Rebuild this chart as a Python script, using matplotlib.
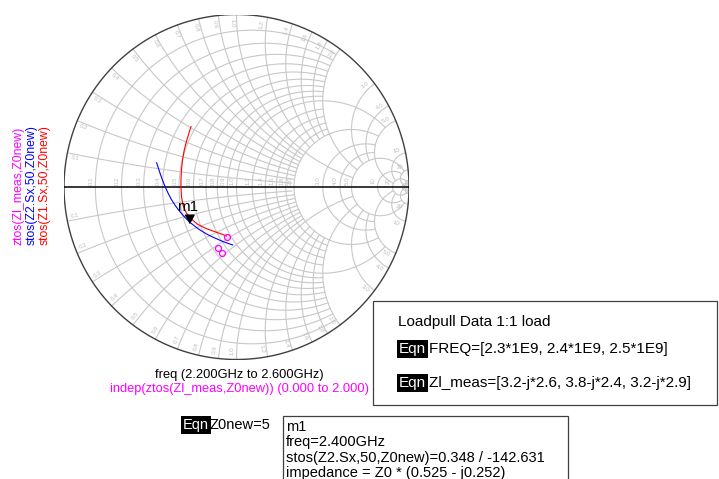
import numpy as np
import matplotlib.pyplot as plt
from matplotlib.patches import Rectangle

plt.rcParams['font.family'] = ['Liberation Sans', 'DejaVu Sans']

W, H = 719, 479

# grid values of the Smith chart: (value, limit of the opposite coordinate)
grid_values = [0.1, 0.2, 0.3, 0.4, 0.5, 0.6, 0.7, 0.8, 0.9, 1.0,
               1.2, 1.4, 1.6, 1.8, 2.0, 3.0, 4.0, 5.0, 10, 20, 50]
grid_limits = [2, 2, 2, 2, 2, 2, 2, 2, 2, 5,
               2, 2, 2, 2, 5, 5, 5, 20, 20, np.inf, np.inf]
grid_texts = ["0.1", "0.2", "0.3", "0.4", "0.5", "0.6", "0.7", "0.8", "0.9", "1.0",
              "1.2", "1.4", "1.6", "1.8", "2.0", "3.0", "4.0", "5.0", "10", "20", ""]

# load pull data
freq_meas_ghz = [2.3, 2.4, 2.5]
zl_meas = [3.2 - 2.6j, 3.8 - 2.4j, 3.2 - 2.9j]
z0_new = 5

# stos(Z1.Sx,50,Z0new), freq 2.2 GHz -> 2.6 GHz
z1_re = [-0.264, -0.274, -0.289, -0.303, -0.313, -0.319, -0.322, -0.322,
         -0.319, -0.309, -0.291, -0.263, -0.224, -0.176, -0.117, -0.057]
z1_im = [0.350, 0.318, 0.268, 0.214, 0.157, 0.099, 0.041, 0.000,
         -0.056, -0.110, -0.150, -0.185, -0.217, -0.241, -0.262, -0.284]

# stos(Z2.Sx,50,Z0new), freq 2.2 GHz -> 2.6 GHz
z2_re = [-0.463, -0.453, -0.443, -0.429, -0.414, -0.396, -0.376, -0.353,
         -0.328, -0.300, -0.270, -0.241, -0.212, -0.174, -0.134, -0.077, -0.022]
z2_im = [0.141, 0.110, 0.079, 0.040, 0.002, -0.037, -0.075, -0.110,
         -0.143, -0.175, -0.205, -0.228, -0.249, -0.272, -0.292, -0.317, -0.336]

# marker m1 on stos(Z2.Sx,50,Z0new) at 2.4 GHz
m1_mag = 0.348
m1_ang = -142.631
m1_imp = (0.525, -0.252)

grid_col = '#c8c8c8'
label_col = '#bcbcbc'


def fpos(x, y):
    return x / W, 1 - y / H


fig = plt.figure(figsize=(W / 100, H / 100), dpi=100)
cx, cy, R = 236.5, 187.0, 172.5
ax = fig.add_axes([(cx - R) / W, (H - cy - R) / H, 2 * R / W, 2 * R / H])
ax.set_xlim(-1, 1)
ax.set_ylim(-1, 1)
ax.axis('off')

phi = np.linspace(1e-4, 2 * np.pi - 1e-4, 4000)

for val, lim, txt in zip(grid_values, grid_limits, grid_texts):
    # constant resistance circle
    g = val / (1 + val) + np.exp(1j * phi) / (1 + val)
    z = (1 + g) / (1 - g)
    g = np.where(np.abs(z.imag) <= lim + 1e-9, g, np.nan)
    ax.plot(g.real, g.imag, color=grid_col, lw=0.8, zorder=1)
    # constant reactance arcs (both signs)
    for s in (1, -1):
        g = 1 + 1j * s / val + np.exp(1j * phi) / val
        inside = np.abs(g) <= 1.0
        z = (1 + g) / (1 - g)
        g = np.where(inside & (z.real <= lim + 1e-9), g, np.nan)
        ax.plot(g.real, g.imag, color=grid_col, lw=0.8, zorder=1)

    if not txt:
        continue
    # resistance label on the real axis
    ax.annotate(txt, ((val - 1) / (val + 1), 0), xytext=(-3, 4.8),
                textcoords='offset points', rotation=90, ha='center', va='center',
                fontsize=4.4, color=label_col)
    # reactance labels along the rim
    for s in (1, -1):
        th = np.degrees(np.arctan2(2 * s * val, val ** 2 - 1)) + s * 1.4
        rot = th if -90 < th <= 90 else th - 180 * np.sign(th)
        t = np.radians(th)
        ax.text(0.952 * np.cos(t), 0.952 * np.sin(t), txt, rotation=rot,
                ha='center', va='center', fontsize=4.4, color=label_col,
                rotation_mode='anchor')

t = np.linspace(0, 2 * np.pi, 600)
ax.plot(np.cos(t), np.sin(t), color='#404040', lw=1.0, zorder=2)
ax.plot([-1, 1], [0, 0], color='black', lw=1.1, zorder=2)

# traces
ax.plot(z1_re, z1_im, color='red', lw=0.8, zorder=3)
ax.plot(z2_re, z2_im, color='blue', lw=0.8, zorder=3)

zn = np.array(zl_meas) / z0_new
gl = (zn - 1) / (zn + 1)
ax.plot(gl.real, gl.imag, ls='none', marker='o', ms=4.3, mfc='none',
        mec='magenta', mew=0.9, zorder=4)

# marker m1
g_m1 = m1_mag * np.exp(1j * np.radians(m1_ang))
tri = [(-0.55, 1.0), (0.55, 1.0), (0, 0)]
ax.plot([g_m1.real], [g_m1.imag], ls='none', marker=tri, ms=12,
        color='black', zorder=5)
ax.annotate('m1', (g_m1.real, g_m1.imag), xytext=(-0.5, 12),
            textcoords='offset points', ha='center', va='center', fontsize=11)

# trace names
fig.text(*fpos(19, 245), 'ztos(Zl_meas,Z0new)', rotation=90, ha='center',
         va='bottom', color='magenta', fontsize=8.8)
fig.text(*fpos(32, 245), 'stos(Z2.Sx,50,Z0new)', rotation=90, ha='center',
         va='bottom', color='blue', fontsize=8.8)
fig.text(*fpos(45, 245), 'stos(Z1.Sx,50,Z0new)', rotation=90, ha='center',
         va='bottom', color='red', fontsize=8.8)

fig.text(*fpos(239, 375), 'freq (2.200GHz to 2.600GHz)', ha='center',
         va='center', fontsize=9.3)
fig.text(*fpos(239, 389), 'indep(ztos(Zl_meas,Z0new)) (0.000 to 2.000)',
         ha='center', va='center', fontsize=9.3, color='magenta')

# equation block
fig.patches.append(Rectangle(fpos(373, 405), 344 / W, 104 / H, fill=False,
                             ec='#404040', lw=0.9, transform=fig.transFigure))
fig.text(*fpos(398, 322), 'Loadpull Data 1:1 load', ha='left', va='center',
         fontsize=11)

eqn_box = dict(boxstyle='square,pad=0.14', fc='black', ec='none')
freq_txt = ', '.join(f'{f}*1E9' for f in freq_meas_ghz)
zl_txt = ', '.join(f'{z.real}-j*{-z.imag}' for z in zl_meas)
fig.text(*fpos(399, 349), 'Eqn', color='white', ha='left', va='center',
         fontsize=11, bbox=eqn_box)
fig.text(*fpos(429, 349), f'FREQ=[{freq_txt}]', ha='left', va='center',
         fontsize=11)
fig.text(*fpos(399, 383), 'Eqn', color='white', ha='left', va='center',
         fontsize=11, bbox=eqn_box)
fig.text(*fpos(429, 383), f'Zl_meas=[{zl_txt}]', ha='left', va='center',
         fontsize=11)

fig.text(*fpos(183, 425), 'Eqn', color='white', ha='left', va='center',
         fontsize=10.5, bbox=eqn_box)
fig.text(*fpos(209, 425), f'Z0new={z0_new}', ha='left', va='center',
         fontsize=10.5)

# marker readout
fig.patches.append(Rectangle(fpos(283, 490), 285 / W, 74 / H, fill=False,
                             ec='#404040', lw=0.9, transform=fig.transFigure))
readout = ['m1', 'freq=2.400GHz',
           f'stos(Z2.Sx,50,Z0new)={m1_mag:.3f} / {m1_ang:.3f}',
           f'impedance = Z0 * ({m1_imp[0]:.3f} - j{-m1_imp[1]:.3f})']
for i, line in enumerate(readout):
    fig.text(*fpos(286, 427 + 15.3 * i), line, ha='left', va='center',
             fontsize=10.5)

fig.savefig('out.png', dpi=100)
